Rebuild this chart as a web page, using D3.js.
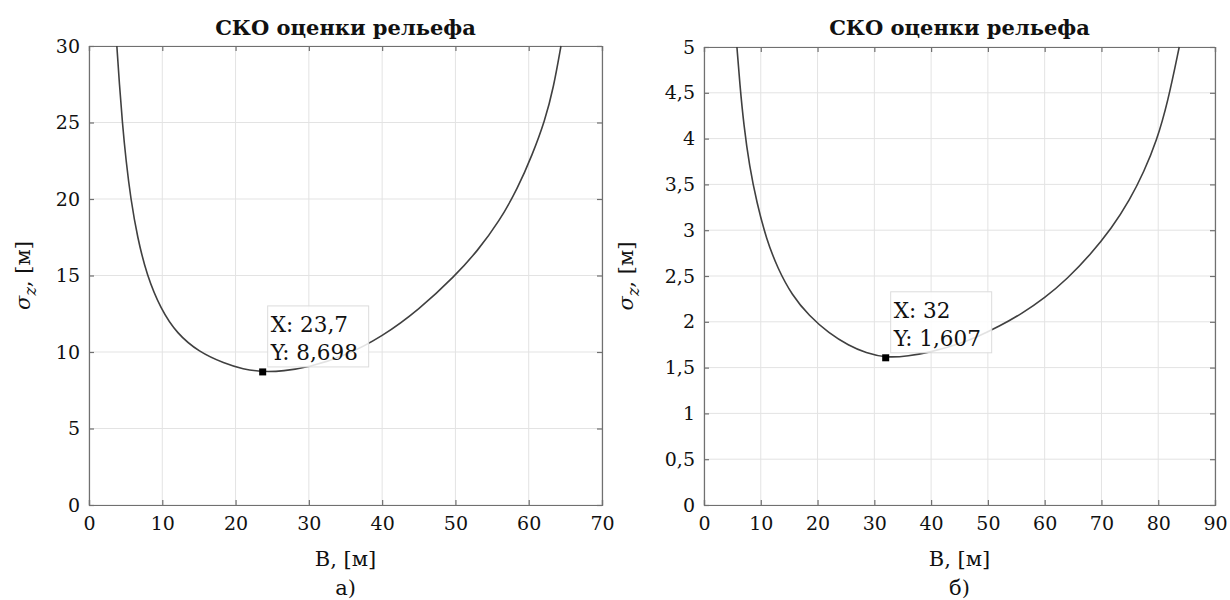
<!DOCTYPE html>
<html>
<head>
<meta charset="utf-8">
<script src="https://cdn.jsdelivr.net/npm/d3@7"></script>
<style>
  body { margin: 0; background: #fff; }
  svg text { font-family: "DejaVu Serif", serif; fill: #111; }
</style>
</head>
<body>
<div id="chart"></div>
<script>
// Define SVG area dimensions
var svgWidth = 1230;
var svgHeight = 600;

// left panel: a)  (values read off the picture)
var leftB     = [3.8, 4.15, 4.55, 5.05, 5.7, 6.6, 7.9, 9.8, 12.0, 15.0, 18.5, 21.0, 23.7, 26.5, 30.0, 35.0, 40.0, 45.0, 50.0, 53.0, 56.0, 58.5, 60.5, 62.2, 63.4, 64.4];
var leftSigma = [30, 27.5, 25, 22.5, 20, 17.5, 15, 12.8, 11.2, 10.0, 9.25, 8.88, 8.698, 8.75, 9.0, 9.75, 11.0, 12.75, 15.0, 16.6, 18.55, 20.7, 22.9, 25.1, 27.3, 30];
var leftXTicks = [0, 10, 20, 30, 40, 50, 60, 70];
var leftYTicks = [0, 5, 10, 15, 20, 25, 30];

// right panel: б)
var rightB     = [5.8, 6.3, 7.0, 8.0, 9.3, 11.0, 13.0, 15.5, 18.5, 22.0, 25.5, 28.5, 32.0, 36.0, 40.0, 44.0, 48.0, 52.0, 56.0, 60.0, 64.0, 68.0, 71.8, 75.0, 77.5, 79.7, 81.7, 83.7];
var rightSigma = [5.0, 4.6, 4.15, 3.7, 3.3, 2.9, 2.58, 2.29, 2.065, 1.875, 1.74, 1.66, 1.607, 1.625, 1.67, 1.74, 1.83, 1.95, 2.09, 2.26, 2.47, 2.73, 3.02, 3.33, 3.64, 3.97, 4.4, 5.0];
var rightXTicks = [0, 10, 20, 30, 40, 50, 60, 70, 80, 90];
var rightYTicks = [0, 0.5, 1, 1.5, 2, 2.5, 3, 3.5, 4, 4.5, 5];

var panels = [
  {B: leftB, S: leftSigma, xt: leftXTicks, yt: leftYTicks, xmax: 70, ymax: 30,
   box: {l: 89, r: 602, t: 46, b: 505}, tip: {x: 23.7, y: 8.698, tx: "X: 23,7", ty: "Y: 8,698"},
   tipBox: {dx: 5, dy: -66, w: 101, h: 61}, cap: "а)", ylx: 30},
  {B: rightB, S: rightSigma, xt: rightXTicks, yt: rightYTicks, xmax: 90, ymax: 5,
   box: {l: 704, r: 1215, t: 47, b: 505}, tip: {x: 32, y: 1.607, tx: "X: 32", ty: "Y: 1,607"},
   tipBox: {dx: 5, dy: -66, w: 101, h: 61}, cap: "б)", ylx: 633}
];

var fmt = function(d) { return String(d).replace(".", ","); };

var svg = d3.select("#chart")
  .append("svg")
    .attr("width", svgWidth)
    .attr("height", svgHeight);

panels.forEach(function(p) {
  var x = d3.scaleLinear().domain([0, p.xmax]).range([p.box.l, p.box.r]);
  var y = d3.scaleLinear().domain([0, p.ymax]).range([p.box.b, p.box.t]);
  var g = svg.append("g");

  // grid
  g.selectAll(".gx").data(p.xt).enter().append("line")
    .attr("x1", d => x(d)).attr("x2", d => x(d))
    .attr("y1", p.box.t).attr("y2", p.box.b)
    .attr("stroke", "#e3e3e3").attr("stroke-width", 1);
  g.selectAll(".gy").data(p.yt).enter().append("line")
    .attr("y1", d => y(d)).attr("y2", d => y(d))
    .attr("x1", p.box.l).attr("x2", p.box.r)
    .attr("stroke", "#e3e3e3").attr("stroke-width", 1);

  // axes (ticks inward, box on all sides)
  var bottom = d3.axisBottom(x).tickValues(p.xt).tickSize(-5).tickPadding(12).tickFormat(fmt);
  var left = d3.axisLeft(y).tickValues(p.yt).tickSize(-5).tickPadding(9).tickFormat(fmt);
  var top = d3.axisTop(x).tickValues(p.xt).tickSize(-5).tickFormat("");
  var right = d3.axisRight(y).tickValues(p.yt).tickSize(-5).tickFormat("");

  [[bottom, `translate(0,${p.box.b})`], [left, `translate(${p.box.l},0)`],
   [top, `translate(0,${p.box.t})`], [right, `translate(${p.box.r},0)`]].forEach(function(a) {
    var ax = g.append("g").attr("transform", a[1]).call(a[0]);
    ax.attr("font-family", null);
    ax.selectAll("path, line").attr("stroke", "#707070").attr("stroke-width", 1.2);
    ax.selectAll("text").style("font-size", "19px").attr("fill", "#111");
  });

  // curve
  var pts = p.B.map((b, i) => [b, p.S[i]]);
  g.append("path")
    .datum(pts)
    .attr("fill", "none")
    .attr("stroke", "#404040")
    .attr("stroke-width", 1.6)
    .attr("d", d3.line().x(d => x(d[0])).y(d => y(d[1])).curve(d3.curveBasis));

  // data tip
  var mx = x(p.tip.x), my = y(p.tip.y);
  g.append("rect")
    .attr("x", mx - 3.5).attr("y", my - 3.5).attr("width", 7).attr("height", 7)
    .attr("fill", "#000");
  g.append("rect")
    .attr("x", mx + p.tipBox.dx).attr("y", my + p.tipBox.dy)
    .attr("width", p.tipBox.w).attr("height", p.tipBox.h)
    .attr("fill", "rgba(255,255,255,0.85)").attr("stroke", "#dcdcdc");
  g.append("text").attr("x", mx + p.tipBox.dx + 3).attr("y", my + p.tipBox.dy + 26)
    .style("font-size", "21.5px").text(p.tip.tx);
  g.append("text").attr("x", mx + p.tipBox.dx + 3).attr("y", my + p.tipBox.dy + 54)
    .style("font-size", "21.5px").text(p.tip.ty);

  var cx = (p.box.l + p.box.r) / 2;
  // title
  g.append("text").attr("x", cx).attr("y", 35)
    .attr("text-anchor", "middle")
    .style("font-size", "21px").style("font-weight", "bold")
    .text("СКО оценки рельефа");
  // x label and caption
  g.append("text").attr("x", cx).attr("y", 566)
    .attr("text-anchor", "middle").style("font-size", "21px")
    .text("B, [м]");
  g.append("text").attr("x", cx).attr("y", 595)
    .attr("text-anchor", "middle").style("font-size", "21px")
    .text(p.cap);
  // y label
  var yl = g.append("text")
    .attr("transform", `translate(${p.ylx}, ${(p.box.t + p.box.b) / 2}) rotate(-90)`)
    .attr("text-anchor", "middle").style("font-size", "21px");
  yl.append("tspan").style("font-style", "italic").text("σ");
  yl.append("tspan").attr("dy", 6).style("font-size", "16px").style("font-style", "italic").text("z");
  yl.append("tspan").attr("dy", -6).text(", [м]");
});
</script>
</body>
</html>
